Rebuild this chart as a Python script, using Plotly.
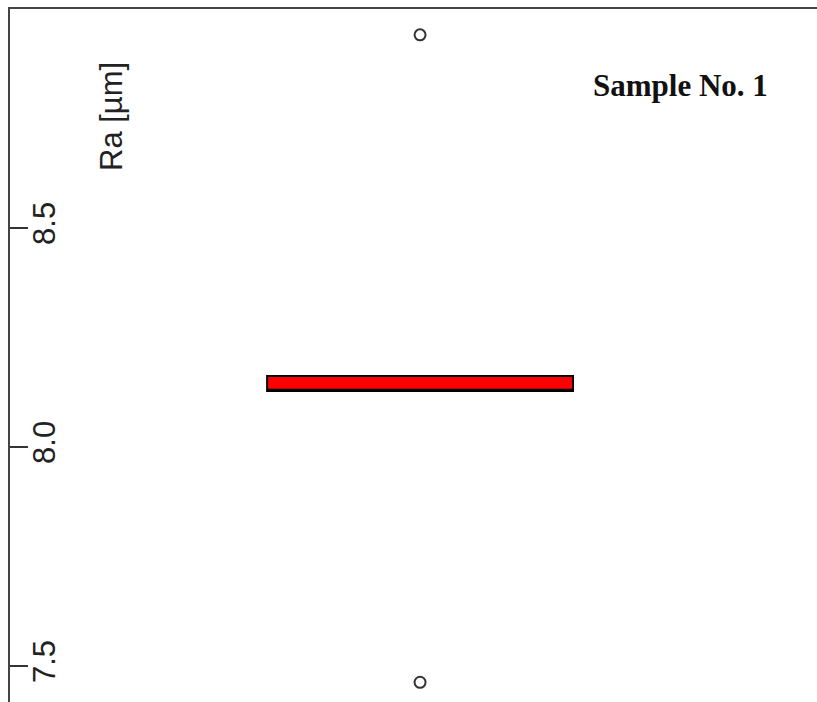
import plotly.graph_objects as go

# ---- data ----
categories = ["Sample No. 1"]
q1_vals = [8.128]
median_vals = [8.131]
q3_vals = [8.162]
lower_fence = [8.128]
upper_fence = [8.162]
outlier_vals = [8.941, 7.463]
tick_vals = [7.5, 8.0, 8.5]
tick_text = ["7.5", "8.0", "8.5"]

fig = go.Figure()

fig.add_trace(go.Box(
    x=categories,
    q1=q1_vals, median=median_vals, q3=q3_vals,
    lowerfence=lower_fence, upperfence=upper_fence,
    fillcolor="#ff0000",
    line=dict(color="#000000", width=2),
    whiskerwidth=0,
    width=0.746,
    boxpoints=False,
    showlegend=False,
    hoverinfo="skip",
))

fig.add_trace(go.Scatter(
    x=categories * len(outlier_vals),
    y=outlier_vals,
    mode="markers",
    marker=dict(symbol="circle-open", size=11, color="#333333", line=dict(width=2)),
    showlegend=False,
    hoverinfo="skip",
))

fig.update_layout(
    width=817, height=702,
    margin=dict(l=10, r=0, t=9, b=0, pad=0),
    paper_bgcolor="white", plot_bgcolor="white",
    xaxis=dict(
        type="category", range=[-1.0, 0.968], side="top",
        showline=True, linecolor="#444444", linewidth=2,
        showticklabels=False, ticks="", showgrid=False, zeroline=False,
        automargin=False,
    ),
    yaxis=dict(
        range=[7.418, 9.0],
        tickvals=tick_vals, ticktext=tick_text,
        ticks="inside", ticklen=18, tickwidth=2, tickcolor="#333333",
        showline=True, linecolor="#444444", linewidth=2,
        showgrid=False, zeroline=False,
        tickangle=-90, ticklabelposition="inside", ticklabelstandoff=-7,
        tickfont=dict(family="Liberation Sans", size=31, color="#222222"),
        automargin=False,
    ),
    annotations=[
        dict(text="Ra [µm]", xref="paper", yref="paper",
             x=(111 - 10) / 807, y=1 - (117 - 9) / 693,
             xanchor="center", yanchor="middle", textangle=-90, showarrow=False,
             font=dict(family="Liberation Sans", size=31, color="#222222")),
        dict(text="<b>Sample No. 1</b>", xref="paper", yref="paper",
             x=(680 - 10) / 807, y=1 - (85 - 9) / 693,
             xanchor="center", yanchor="middle", showarrow=False,
             font=dict(family="Liberation Serif", size=31, color="#111111")),
    ],
)

fig.write_html("out.html")
